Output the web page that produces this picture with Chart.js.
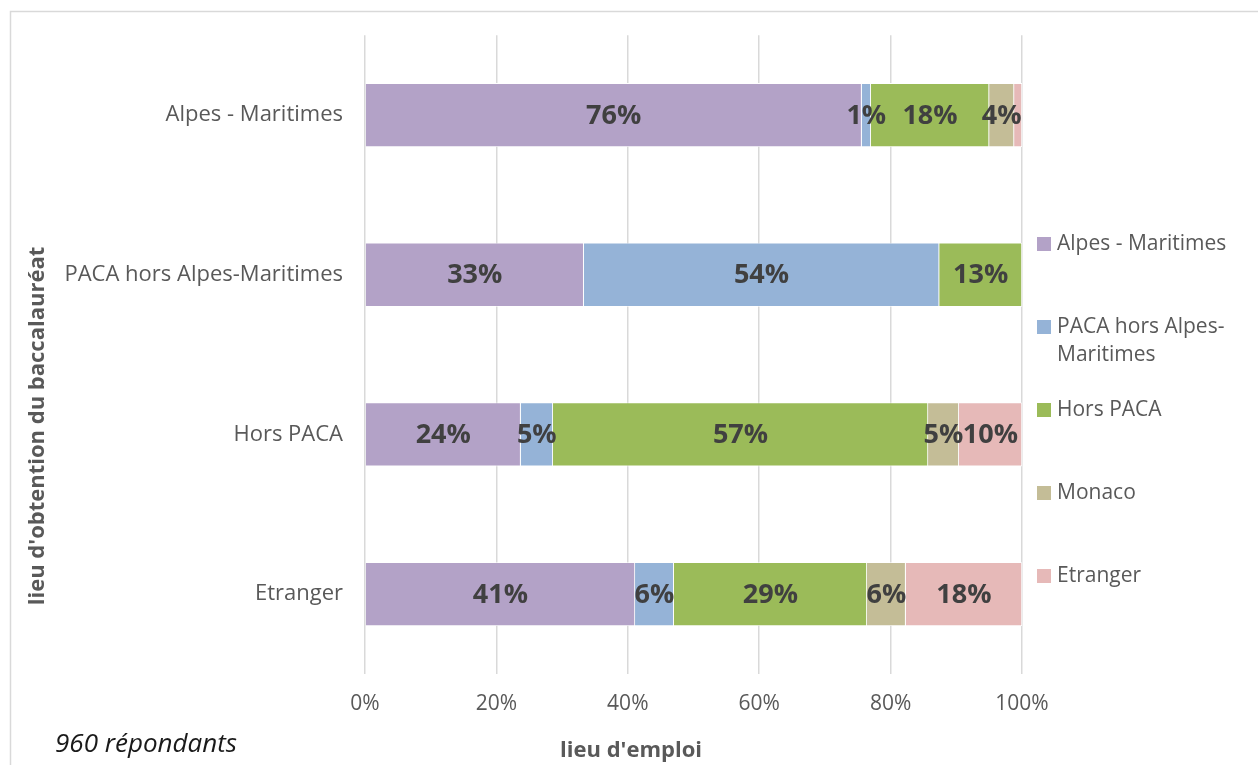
<!DOCTYPE html>
<html>
<head>
<meta charset="utf-8">
<script src="https://cdn.jsdelivr.net/npm/chart.js@4.4.1/dist/chart.umd.min.js"></script>
<style>
html,body{margin:0;padding:0;background:#fff;}
#wrap{position:relative;width:1258px;height:765px;}
canvas{display:block;}
</style>
</head>
<body>
<div id="wrap"><canvas id="c" width="1258" height="765"></canvas></div>
<script>
// ---- Data ----
const categories = ["Alpes - Maritimes", "PACA hors Alpes-Maritimes", "Hors PACA", "Etranger"];
const seriesNames = ["Alpes - Maritimes", "PACA hors Alpes-Maritimes", "Hors PACA", "Monaco", "Etranger"];
const alpesMaritimes = [75.6, 33.3, 23.7, 41.1];
const pacaHorsAM    = [1.4, 54.1, 4.9, 5.9];
const horsPACA      = [18.0, 12.6, 57.1, 29.4];
const monaco        = [3.8, 0, 4.7, 5.9];
const etranger      = [1.2, 0, 9.6, 17.7];
const xTicks = [0, 20, 40, 60, 80, 100];
const hiddenLabels = [[4, 0]]; // [datasetIndex, categoryIndex] without visible label
const colors = ["#B3A2C7", "#95B3D7", "#9BBB59", "#C4BD97", "#E6B9B8"];

const FONT = "'Open Sans', 'DejaVu Sans', sans-serif";
const values = [alpesMaritimes, pacaHorsAM, horsPACA, monaco, etranger];

const labelPlugin = {
  id: 'barLabels',
  afterDatasetsDraw(chart) {
    const ctx = chart.ctx;
    ctx.save();
    ctx.font = "bold 27px " + FONT;
    ctx.fillStyle = "#404040";
    ctx.textAlign = "center";
    ctx.textBaseline = "middle";
    chart.data.datasets.forEach((ds, di) => {
      const meta = chart.getDatasetMeta(di);
      meta.data.forEach((el, i) => {
        const v = ds.data[i];
        if (!v) return;
        if (hiddenLabels.some(h => h[0] === di && h[1] === i)) return;
        const p = el.getProps(['x', 'y', 'base'], true);
        ctx.fillText(Math.round(v) + "%", (p.x + p.base) / 2, p.y + 1);
      });
    });
    ctx.restore();
  }
};

const decorPlugin = {
  id: 'decor',
  beforeDraw(chart) {
    const ctx = chart.ctx;
    ctx.save();
    ctx.fillStyle = "#fff";
    ctx.fillRect(0, 0, chart.width, chart.height);
    ctx.strokeStyle = "#d9d9d9";
    ctx.lineWidth = 1.5;
    ctx.strokeRect(10.5, 11.5, 1300, 800);
    ctx.restore();
  },
  afterDraw(chart) {
    const ctx = chart.ctx;
    ctx.save();
    // Legend
    ctx.font = "21px " + FONT;
    ctx.textBaseline = "middle";
    ctx.textAlign = "left";
    chart.data.datasets.forEach((ds, i) => {
      const cy = 244 + i * 83;
      ctx.fillStyle = ds.backgroundColor;
      ctx.fillRect(1037, cy - 7, 14, 14);
      ctx.fillStyle = "#595959";
      const maxW = 195;
      const parts = ds.label.split(/(?<=[ -])/);
      let lines = [], cur = "";
      parts.forEach(pt => {
        if (ctx.measureText(cur + pt).width > maxW && cur) { lines.push(cur); cur = pt; }
        else cur += pt;
      });
      lines.push(cur);
      lines.forEach((ln, k) => ctx.fillText(ln.replace(/ $/, ''), 1057, cy + k * 28));
    });
    // Axis titles
    ctx.fillStyle = "#595959";
    ctx.font = "bold 22px " + FONT;
    ctx.textAlign = "center";
    ctx.fillText("lieu d'emploi", 631, 751);
    ctx.save();
    ctx.translate(38, 426);
    ctx.rotate(-Math.PI / 2);
    ctx.fillText("lieu d'obtention du baccalauréat", 0, 0);
    ctx.restore();
    // note
    ctx.font = "italic 26px " + FONT;
    ctx.fillStyle = "#1a1a1a";
    ctx.textAlign = "left";
    ctx.fillText("960 répondants", 55, 745);
    ctx.restore();
  }
};

new Chart(document.getElementById('c'), {
  type: 'bar',
  data: {
    labels: categories,
    datasets: seriesNames.map((n, i) => ({
      label: n,
      data: values[i],
      backgroundColor: colors[i],
      borderColor: "#ffffff",
      borderWidth: 0.8,
      categoryPercentage: 1,
      barPercentage: 0.4
    }))
  },
  options: {
    indexAxis: 'y',
    responsive: false,
    animation: false,
    layout: { padding: { left: 10, right: 236, top: 31, bottom: 0 } },
    plugins: { legend: { display: false }, tooltip: { enabled: false } },
    scales: {
      x: {
        stacked: true, min: 0, max: 100,
        afterBuildTicks(scale) { scale.ticks = xTicks.map(v => ({ value: v })); },
        afterFit(scale) { scale.height = 91; },
        grid: { color: "#d9d9d9", lineWidth: 1.5, drawTicks: false },
        border: { display: false },
        ticks: { padding: 17, color: "#595959", font: { size: 21, family: FONT }, callback: v => v + "%" }
      },
      y: {
        stacked: true,
        afterFit(scale) { scale.width = 355; },
        grid: { display: false, drawTicks: false },
        border: { display: false },
        ticks: { padding: 22, color: "#595959", font: { size: 22, family: FONT } }
      }
    }
  },
  plugins: [labelPlugin, decorPlugin]
});
</script>
</body>
</html>
